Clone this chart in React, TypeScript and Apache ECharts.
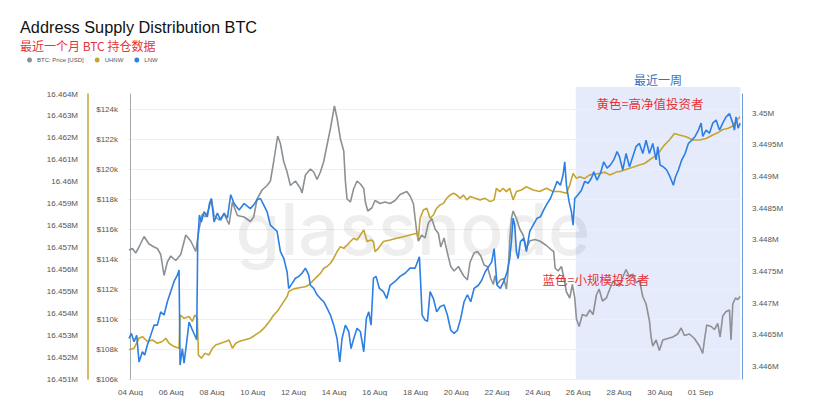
import React, { useEffect, useRef } from "react";
import * as echarts from "echarts";

// x = hours since 04 Aug 2025 00:00 (UTC)
const seriesNames = ["BTC: Price [USD]", "UHNW", "LNW"];
const xTickHours = 48; // date label every 2 days
const shadeRange = [525, 719]; // "最近一周"

// BTC price, $k
const priceData: [number, number][] = [
  [-1.8,114.6],[2.2,114.7],[6.1,114.4],[10.0,114.8],[15.9,115.5],[21.8,115.0],[27.7,114.8],[31.6,114.7],[35.6,114.3],[39.5,112.9],[43.4,113.8],[47.4,114.2],[53.3,113.9],[59.2,114.3],[65.1,115.6],[71.0,115.2],[76.9,114.5],[80.8,116.0],[84.7,117.0],[88.6,116.8],[92.6,117.4],[95.3,118.0],[98.5,116.9],[104.4,116.6],[110.3,117.0],[116.2,116.3],[120.1,117.8],[126.0,116.9],[133.9,116.8],
  [141.3,116.5],[145.2,116.8],[149.2,118.0],[155.1,118.6],[161.0,118.9],[164.9,119.2],[168.8,120.5],[173.5,122.2],[176.7,121.7],[180.6,120.5],[184.6,119.8],[188.5,118.9],[194.4,119.2],[200.3,118.7],[202.2,118.4],[206.2,119.6],[212.1,120.0],[216.0,119.8],[219.9,119.3],[223.9,119.8],[227.8,120.5],[231.7,121.6],[235.7,122.7],[240.4,124.2],[243.5,123.4],[247.5,122.0],[251.4,121.2],[253.3,119.2],[255.3,118.0],[259.2,117.8],[263.2,118.7],[267.1,119.2],[271.0,119.0],[275.0,118.7],[276.9,117.8],[279.7,117.2],
  [284.4,117.4],[288.3,117.9],[294.2,117.7],[300.1,117.8],[306.0,117.7],[311.9,117.9],[317.8,118.3],[325.7,118.5],[329.6,118.2],[333.5,117.7],[337.5,115.8],[339.4,115.2],[343.4,115.6],[347.3,115.4],[351.2,116.4],[355.2,116.7],[359.1,116.0],[363.0,115.7],[365.8,114.8],[369.7,115.4],[373.6,114.4],[377.6,113.5],[381.5,113.2],[386.6,113.5],[392.5,112.9],[397.2,112.6],[400.4,113.8],[405.1,114.4],[409.0,114.5],[413.0,114.2],[416.9,113.6],[420.8,113.5],[424.7,112.7],[427.9,112.3],
  [429.5,112.9],[432.2,112.3],[436.1,112.6],[440.1,112.7],[443.2,112.0],[445.2,113.2],[447.1,115.2],[449.1,116.7],[451.1,117.2],[455.0,116.7],[458.9,116.0],[462.9,115.6],[466.8,114.7],[470.7,115.2],[476.6,115.3],[482.5,115.2],[490.4,114.9],[496.3,114.6],[499.0,114.5],[500.6,113.4],[504.1,113.2],[508.1,113.5],[510.8,112.8],[514.0,111.8],[517.9,111.4],[521.0,112.3],[523.8,111.4],[525.8,110.0],[528.9,109.5],[532.8,110.3],[537.6,110.2],[541.5,110.6],[545.4,110.3],[549.3,111.6],[552.5,112.0],[556.4,111.2],[561.1,111.4],[565.1,112.0],[569.0,112.5],[573.0,112.3],
  [576.5,112.2],[580.4,112.8],[584.3,113.3],[588.3,112.8],[592.2,113.0],[596.1,112.4],[600.0,112.6],[604.0,111.5],[607.9,111.0],[611.8,109.9],[613.8,108.8],[615.8,108.2],[619.7,108.6],[623.6,107.9],[627.6,108.6],[633.5,108.7],[639.4,108.8],[645.2,109.0],[649.2,109.4],[653.1,108.9],[659.0,109.0],[664.9,108.7],[670.8,108.2],[674.7,107.7],[676.7,108.6],[679.4,109.6],[684.6,109.5],[688.5,109.3],[692.4,109.7],[695.2,108.8],[698.3,110.2],[702.2,110.5],[706.2,110.6],[708.1,108.6],[710.1,111.0],[713.3,111.4],[716.0,111.3],[718.8,111.5],
];

// UHNW supply, thousand BTC
const uhnwData: [number, number][] = [
  [-1.8,16452.33],[4.1,16452.40],[10.0,16452.86],[14.0,16452.93],[19.9,16452.71],[25.8,16452.78],[31.6,16452.63],[37.5,16452.71],[41.5,16452.86],[45.4,16452.63],[51.3,16452.48],[57.2,16452.40],[58.4,16453.92],[63.1,16453.77],[69.0,16453.85],[73.0,16453.62],[75.7,16453.92],[78.8,16453.77],[80.0,16452.10],[83.5,16451.95],[87.5,16452.17],[92.6,16452.10],[96.5,16452.40],[100.4,16452.55],[106.3,16452.63],[112.2,16452.71],[116.2,16452.78],[120.1,16452.40],[124.0,16452.63],[128.0,16452.71],[133.9,16452.78],
  [141.3,16452.86],[147.2,16453.01],[153.1,16453.16],[159.0,16453.39],[164.9,16453.69],[168.8,16453.92],[172.8,16454.07],[176.7,16454.30],[180.6,16454.53],[184.6,16454.76],[186.5,16454.99],[192.4,16455.11],[200.3,16455.17],[206.2,16455.21],[210.1,16455.29],[214.0,16455.44],[219.9,16455.67],[223.9,16455.82],[227.8,16456.05],[231.7,16456.13],[235.7,16456.28],[239.6,16456.51],[243.5,16456.81],[247.5,16457.04],[251.4,16456.96],[255.3,16457.11],[259.2,16457.27],[263.2,16457.42],[267.1,16457.34],[271.0,16457.57],[275.0,16457.80],[278.9,16457.27],[283.6,16457.34],
  [286.4,16457.27],[288.3,16456.81],[292.3,16456.96],[298.2,16457.27],[306.0,16457.34],[313.9,16457.42],[321.7,16457.49],[329.6,16457.57],[337.5,16457.65],[339.4,16457.42],[341.4,16458.33],[345.3,16458.71],[349.3,16458.79],[353.2,16458.33],[357.1,16458.48],[361.0,16458.79],[365.0,16458.94],[368.9,16459.01],[372.8,16459.24],[376.8,16459.39],[380.7,16459.47],[384.6,16459.39],[388.6,16459.24],[392.5,16459.39],[396.4,16459.17],[400.4,16459.32],[406.3,16459.24],[412.1,16459.17],[418.1,16459.24],[424.0,16459.09],[428.7,16459.17],
  [431.4,16459.70],[435.3,16459.55],[439.3,16459.70],[443.2,16459.55],[447.1,16459.70],[451.1,16459.17],[455.0,16459.55],[460.9,16459.62],[466.8,16459.77],[474.7,16459.62],[482.5,16459.55],[490.4,16459.70],[498.2,16459.55],[506.1,16459.55],[514.0,16459.47],[517.9,16459.85],[521.8,16460.38],[525.8,16460.15],[529.7,16460.23],[535.6,16460.15],[541.5,16460.31],[547.4,16460.34],[553.3,16460.38],[559.2,16460.43],[565.1,16460.31],[569.8,16460.38],[573.7,16460.46],
  [576.5,16460.45],[582.4,16460.53],[588.3,16460.61],[594.1,16460.68],[600.0,16460.76],[606.0,16460.83],[611.8,16460.99],[617.7,16461.14],[623.6,16461.37],[629.5,16461.67],[635.4,16461.90],[641.3,16462.20],[647.2,16462.13],[655.1,16462.05],[662.9,16461.90],[670.8,16461.90],[678.7,16461.97],[686.5,16462.13],[692.4,16462.23],[698.3,16462.38],[704.2,16462.43],[710.1,16462.54],[714.8,16462.81],[718.8,16462.96],
];

// LNW supply, thousand BTC
const lnwData: [number, number][] = [
  [-1.8,3446.44],[1.0,3446.52],[4.1,3446.39],[7.3,3446.49],[10.0,3446.07],[14.0,3446.23],[16.7,3446.18],[19.9,3446.34],[23.8,3446.49],[27.7,3446.65],[31.6,3446.65],[35.6,3446.86],[39.5,3446.81],[43.4,3447.02],[47.4,3447.18],[51.3,3447.34],[55.2,3447.44],[57.2,3447.52],[58.4,3446.02],[61.1,3446.28],[63.1,3446.05],[65.8,3446.34],[69.0,3446.70],[72.1,3446.60],[75.7,3446.49],[78.0,3446.42],[79.2,3447.97],[81.2,3448.39],[83.5,3448.28],[86.7,3448.44],[90.6,3448.36],[93.0,3448.57],[95.3,3448.65],[98.5,3448.28],[102.4,3448.42],[106.3,3448.31],[110.3,3448.42],[114.2,3448.34],[118.1,3448.71],[122.1,3448.57],[128.0,3448.47],[133.9,3448.57],
  [141.3,3448.49],[145.2,3448.55],[149.2,3448.63],[153.1,3448.65],[157.0,3448.55],[161.0,3448.44],[164.9,3448.23],[168.8,3448.18],[172.8,3448.13],[176.7,3447.81],[180.6,3447.71],[184.6,3447.49],[186.5,3447.23],[190.5,3447.31],[194.4,3447.39],[198.3,3447.42],[202.2,3447.47],[206.2,3447.55],[210.1,3447.44],[212.1,3447.28],[216.0,3447.23],[219.9,3447.13],[223.9,3447.07],[227.8,3447.02],[231.7,3446.92],[235.7,3446.81],[239.6,3446.65],[243.5,3446.44],[246.7,3446.07],[249.4,3446.44],[253.3,3446.65],[257.3,3446.55],[260.0,3446.28],[263.2,3446.44],[267.1,3446.60],[271.0,3446.55],[275.0,3446.23],[278.1,3446.76],[280.9,3446.86],
  [283.6,3446.65],[286.4,3447.39],[289.5,3447.42],[293.4,3447.23],[298.2,3447.18],[302.1,3447.07],[306.0,3447.28],[311.9,3447.34],[317.8,3447.42],[323.7,3447.47],[329.6,3447.55],[335.5,3447.55],[340.6,3447.73],[342.2,3447.28],[343.8,3446.81],[347.3,3446.73],[350.1,3446.71],[353.2,3447.18],[357.1,3447.07],[361.0,3446.86],[365.0,3446.94],[369.7,3446.97],[373.6,3446.81],[377.6,3446.57],[381.5,3446.52],[385.4,3446.57],[389.4,3446.76],[393.3,3447.02],[397.2,3447.13],[401.1,3447.02],[405.1,3447.23],[410.2,3447.28],[414.1,3447.36],[418.1,3447.49],[422.0,3447.57],[425.9,3447.65],[428.7,3447.86],
  [432.2,3447.28],[436.1,3447.23],[440.1,3447.34],[444.0,3447.49],[447.1,3447.70],[449.1,3447.97],[451.1,3448.34],[453.0,3448.23],[455.0,3447.81],[457.0,3447.70],[459.7,3447.97],[463.6,3448.02],[466.8,3447.81],[470.7,3448.13],[474.7,3448.23],[479.4,3448.34],[483.3,3448.36],[487.2,3448.47],[491.2,3448.57],[495.1,3448.65],[499.0,3448.78],[503.0,3448.92],[506.9,3448.86],[510.0,3449.02],[512.0,3449.23],[514.0,3448.86],[517.1,3448.60],[519.9,3448.44],[521.8,3448.23],[523.8,3448.65],[527.7,3448.71],[531.7,3448.78],[535.6,3448.92],[539.5,3448.89],[543.4,3448.97],[546.2,3449.07],[550.1,3448.94],[554.1,3449.05],[558.0,3449.23],[561.9,3449.13],[565.9,3449.18],[569.8,3449.26],[573.7,3449.39],
  [576.5,3449.31],[580.4,3449.10],[584.3,3449.36],[588.3,3449.15],[592.2,3449.31],[596.1,3449.47],[600.0,3449.52],[604.0,3449.36],[607.9,3449.57],[611.8,3449.36],[615.8,3449.52],[619.7,3449.26],[621.7,3449.47],[624.4,3449.18],[628.3,3449.15],[632.3,3449.10],[636.2,3448.99],[640.1,3448.86],[642.5,3448.99],[646.0,3449.10],[650.0,3449.26],[653.9,3449.36],[657.8,3449.52],[661.8,3449.57],[665.7,3449.63],[669.6,3449.73],[672.8,3449.84],[674.7,3449.63],[678.7,3449.73],[682.6,3449.68],[686.5,3449.84],[690.5,3449.89],[694.4,3449.73],[698.3,3449.84],[702.2,3449.94],[706.2,3449.99],[710.1,3449.84],[712.1,3449.73],[714.0,3449.94],[716.4,3449.76],[718.8,3449.84],
];

const MONTHS = ["Jan","Feb","Mar","Apr","May","Jun","Jul","Aug","Sep","Oct","Nov","Dec"];
const BASE = Date.UTC(2025, 7, 4);
const X_MIN = -3;
const X_MAX = 721;
const near = (a: number, b: number) => Math.abs(a - b) < 1e-6;

const LABEL_FONT = "Liberation Sans, Arial, sans-serif";
const CJK_FONT = "Noto Sans CJK SC, sans-serif";
const C_PRICE = "#8c9195";
const C_UHNW = "#c6a431";
const C_LNW = "#2c7fe3";

export default function App() {
  const ref = useRef<HTMLDivElement>(null);
  useEffect(() => {
    if (!ref.current) return;
    const chart = echarts.init(ref.current, null, { renderer: "svg" });
    const labelStyle = { fontSize: 8, color: "#555", fontFamily: LABEL_FONT };
    chart.setOption({
      animation: false,
      backgroundColor: "#fff",
      grid: { left: 128, right: 86, top: 94, bottom: 17 },
      legend: {
        left: 22, top: 52, icon: "circle", itemWidth: 5, itemHeight: 5, itemGap: 11,
        textStyle: { fontSize: 6, color: "#555", fontFamily: LABEL_FONT },
        data: seriesNames,
      },
      xAxis: {
        type: "value", min: X_MIN, max: X_MAX, interval: 3,
        axisLine: { show: false }, axisTick: { show: false }, splitLine: { show: false },
        axisLabel: {
          ...labelStyle, margin: 9,
          formatter: (v: number) => {
            const r = Math.round(v);
            if (!near(v, r) || r % xTickHours !== 0 || r > X_MAX - 24) return "";
            const d = new Date(BASE + r * 3600000);
            return String(d.getUTCDate()).padStart(2, "0") + " " + MONTHS[d.getUTCMonth()];
          },
        },
      },
      yAxis: [
        {
          type: "value", position: "left", min: 106, max: 125, interval: 2,
          axisLine: { show: true, lineStyle: { color: "#a3a8ad", width: 1 } },
          axisTick: { show: false },
          splitLine: { show: true, showMaxLine: false, lineStyle: { color: "#efefef", width: 1 } },
          axisLabel: { ...labelStyle, margin: 10, formatter: (v: number) => (near(v % 2, 0) ? "$" + Math.round(v) + "k" : "") },
        },
        {
          type: "value", position: "left", offset: 40, min: 16451, max: 16464, interval: 1,
          axisLine: { show: true, lineStyle: { color: C_UHNW, width: 1.5 } },
          axisTick: { show: false }, splitLine: { show: false },
          axisLabel: { ...labelStyle, margin: 10, formatter: (v: number) => parseFloat((v / 1000).toFixed(4)) + "M" },
        },
        {
          type: "value", position: "right", min: 3445.8, max: 3450.3, interval: 0.1,
          axisLine: { show: true, lineStyle: { color: "#6f9ad8", width: 1 } },
          axisTick: { show: false }, splitLine: { show: false },
          axisLabel: {
            ...labelStyle, margin: 10,
            formatter: (v: number) => (near(v * 2, Math.round(v * 2)) ? parseFloat((v / 1000).toFixed(4)) + "M" : ""),
          },
        },
      ],
      series: [
        { name: seriesNames[0], type: "line", yAxisIndex: 0, data: priceData, showSymbol: false, color: C_PRICE, lineStyle: { width: 1.6 } },
        { name: seriesNames[1], type: "line", yAxisIndex: 1, data: uhnwData, showSymbol: false, color: C_UHNW, lineStyle: { width: 1.6 } },
        { name: seriesNames[2], type: "line", yAxisIndex: 2, data: lnwData, showSymbol: false, color: C_LNW, lineStyle: { width: 1.6 } },
      ],
    });
    const x0 = chart.convertToPixel({ xAxisIndex: 0 }, shadeRange[0]) as number;
    const x1 = chart.convertToPixel({ xAxisIndex: 0 }, shadeRange[1]) as number;
    const yBottom = chart.convertToPixel({ yAxisIndex: 0 }, 106) as number;
    const yTop = (chart.convertToPixel({ yAxisIndex: 0 }, 125) as number) - 7;
    chart.setOption({
      graphic: [
        { type: "rect", z: -5, silent: true, shape: { x: x0, y: yTop, width: x1 - x0, height: yBottom - yTop }, style: { fill: "#e5ebfa" } },
        { type: "text", z: 1, silent: true, x: 413, y: 228, style: { text: "glassnode", fontSize: 72, fontFamily: "Inter, sans-serif", fontWeight: 500, fill: "rgba(0,0,0,0.065)", align: "center", verticalAlign: "middle" } },
        { type: "text", z: 10, x: 20, y: 27, style: { text: "Address Supply Distribution BTC", fontSize: 16.3, fontFamily: LABEL_FONT, fill: "#111", verticalAlign: "middle" } },
        { type: "text", z: 10, x: 20, y: 45, style: { text: "最近一个月 BTC 持仓数据", fontSize: 12, fontFamily: CJK_FONT, fill: "#e5333b", verticalAlign: "middle" } },
        { type: "text", z: 10, x: (x0 + x1) / 2, y: 79, style: { text: "最近一周", fontSize: 12, fontFamily: CJK_FONT, fill: "#3d6fc2", align: "center", verticalAlign: "middle" } },
        { type: "text", z: 10, x: 650, y: 103, style: { text: "黄色=高净值投资者", fontSize: 12.5, fontFamily: CJK_FONT, fill: "#e5333b", align: "center", verticalAlign: "middle" } },
        { type: "text", z: 10, x: 596, y: 279, style: { text: "蓝色=小规模投资者", fontSize: 12.5, fontFamily: CJK_FONT, fill: "#e5333b", align: "center", verticalAlign: "middle" } },
      ],
    });
    return () => chart.dispose();
  }, []);
  return <div ref={ref} style={{ position: "fixed", left: 0, top: 0, width: 828, height: 396 }} />;
}
